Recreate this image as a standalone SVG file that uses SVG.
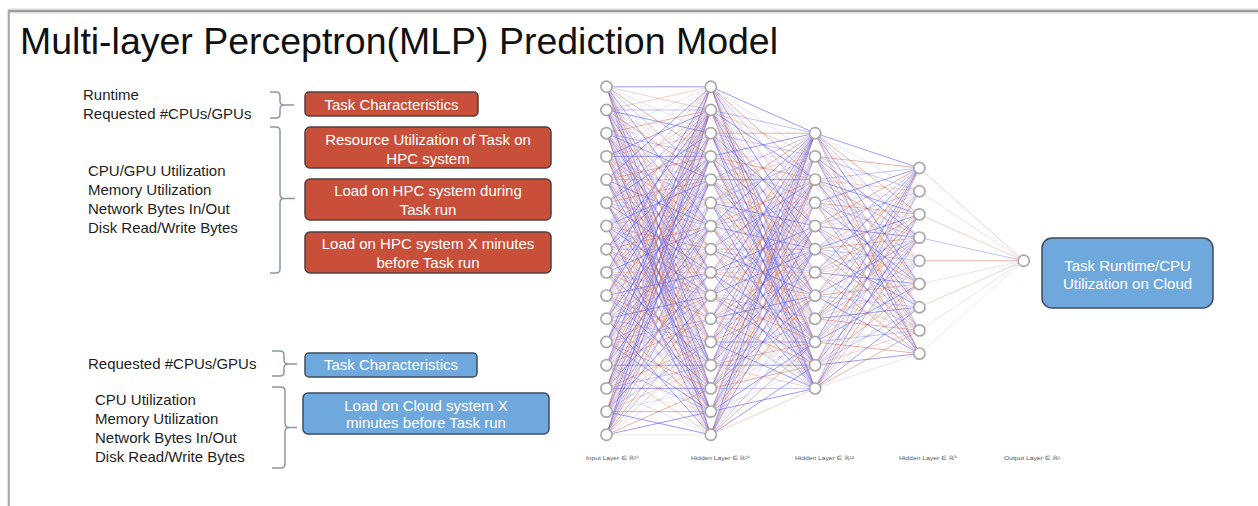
<svg xmlns="http://www.w3.org/2000/svg" xmlns:xlink="http://www.w3.org/1999/xlink" width="1258" height="506" viewBox="0 0 1258 506">
  <style>
    text { font-family: "Liberation Sans", Arial, sans-serif; }
    .title { font-size: 37px; fill: #111; }
    .lbl { font-size: 15px; fill: #1e1e1e; }
    .btxt { font-size: 15px; fill: #ffffff; text-anchor: middle; }
    .ltag { font-size: 6px; fill: #555; font-family: "Liberation Sans", "DejaVu Sans", sans-serif; }
    .red { fill: #c8503a; stroke: #4e4040; stroke-width: 1.5; }
    .blue { fill: #6fa8dc; stroke: #3e4c5c; stroke-width: 1.5; }
    .brace { fill: none; stroke: #8b97a6; stroke-width: 1.5; }
    .neuron { fill: #fff; stroke: #a9a9a9; stroke-width: 1.7; }
    .b1, .b2, .b3, .r1, .r2, .r3 { fill: none; stroke-width: 1; vector-effect: non-scaling-stroke; }
    .b1 { stroke: #5a5af0; stroke-opacity: .6; }
    .b2 { stroke: #5a5af0; stroke-opacity: .36; }
    .b3 { stroke: #5a5af0; stroke-opacity: .17; }
    .r1 { stroke: #d0684a; stroke-opacity: .5; }
    .r2 { stroke: #d0684a; stroke-opacity: .3; }
    .r3 { stroke: #d0684a; stroke-opacity: .15; }
  </style>
  <defs>
    <!-- Weight fans: one source at the origin, targets at x=104.3 on the next layer.
         Each <use> shears a fan so its source lands on a given neuron. -->
    <!-- input -> hidden 1 (16 targets) -->
    <g id="p1a">
      <path class="b1" d="M0 0L104.3 86.8M0 0L104.3 226M0 0L104.3 365.2"/>
      <path class="b2" d="M0 0L104.3 179.6M0 0L104.3 295.6M0 0L104.3 411.6"/>
      <path class="b3" d="M0 0L104.3 133.2M0 0L104.3 249.2M0 0L104.3 342"/>
      <path class="r1" d="M0 0L104.3 156.4M0 0L104.3 318.8"/>
      <path class="r2" d="M0 0L104.3 110M0 0L104.3 272.4M0 0L104.3 434.8"/>
      <path class="r3" d="M0 0L104.3 202.8M0 0L104.3 388.4"/>
    </g>
    <g id="p1b">
      <path class="b1" d="M0 0L104.3 133.2M0 0L104.3 272.4M0 0L104.3 388.4"/>
      <path class="b2" d="M0 0L104.3 110M0 0L104.3 226M0 0L104.3 365.2"/>
      <path class="b3" d="M0 0L104.3 202.8M0 0L104.3 318.8M0 0L104.3 434.8"/>
      <path class="r1" d="M0 0L104.3 179.6M0 0L104.3 342"/>
      <path class="r2" d="M0 0L104.3 86.8M0 0L104.3 249.2"/>
      <path class="r3" d="M0 0L104.3 156.4M0 0L104.3 295.6M0 0L104.3 411.6"/>
    </g>
    <g id="p1c">
      <path class="b1" d="M0 0L104.3 179.6M0 0L104.3 295.6M0 0L104.3 434.8"/>
      <path class="b2" d="M0 0L104.3 156.4M0 0L104.3 272.4M0 0L104.3 342"/>
      <path class="b3" d="M0 0L104.3 86.8M0 0L104.3 226M0 0L104.3 388.4"/>
      <path class="r1" d="M0 0L104.3 110M0 0L104.3 249.2M0 0L104.3 411.6"/>
      <path class="r2" d="M0 0L104.3 202.8M0 0L104.3 365.2"/>
      <path class="r3" d="M0 0L104.3 133.2M0 0L104.3 318.8"/>
    </g>
    <g id="p1d">
      <path class="b1" d="M0 0L104.3 110M0 0L104.3 156.4M0 0L104.3 411.6"/>
      <path class="b2" d="M0 0L104.3 202.8M0 0L104.3 249.2M0 0L104.3 318.8"/>
      <path class="b3" d="M0 0L104.3 179.6M0 0L104.3 365.2"/>
      <path class="r1" d="M0 0L104.3 226M0 0L104.3 295.6M0 0L104.3 388.4"/>
      <path class="r2" d="M0 0L104.3 133.2M0 0L104.3 342"/>
      <path class="r3" d="M0 0L104.3 86.8M0 0L104.3 272.4M0 0L104.3 434.8"/>
    </g>
    <!-- hidden 1 -> hidden 2 (12 targets) -->
    <g id="p2a">
      <path class="b1" d="M0 0L104.3 133.2M0 0L104.3 249.2M0 0L104.3 365.2"/>
      <path class="b2" d="M0 0L104.3 202.8M0 0L104.3 318.8"/>
      <path class="b3" d="M0 0L104.3 156.4M0 0L104.3 295.6"/>
      <path class="r1" d="M0 0L104.3 179.6M0 0L104.3 342"/>
      <path class="r2" d="M0 0L104.3 226M0 0L104.3 388.4"/>
      <path class="r3" d="M0 0L104.3 272.4"/>
    </g>
    <g id="p2b">
      <path class="b1" d="M0 0L104.3 179.6M0 0L104.3 295.6"/>
      <path class="b2" d="M0 0L104.3 133.2M0 0L104.3 272.4M0 0L104.3 388.4"/>
      <path class="b3" d="M0 0L104.3 226M0 0L104.3 342"/>
      <path class="r1" d="M0 0L104.3 249.2M0 0L104.3 365.2"/>
      <path class="r2" d="M0 0L104.3 156.4M0 0L104.3 318.8"/>
      <path class="r3" d="M0 0L104.3 202.8"/>
    </g>
    <g id="p2c">
      <path class="b1" d="M0 0L104.3 226M0 0L104.3 342M0 0L104.3 388.4"/>
      <path class="b2" d="M0 0L104.3 156.4M0 0L104.3 249.2"/>
      <path class="b3" d="M0 0L104.3 179.6M0 0L104.3 365.2"/>
      <path class="r1" d="M0 0L104.3 133.2M0 0L104.3 295.6"/>
      <path class="r2" d="M0 0L104.3 202.8M0 0L104.3 272.4"/>
      <path class="r3" d="M0 0L104.3 318.8"/>
    </g>
    <!-- hidden 2 -> hidden 3 (9 targets) -->
    <g id="p3a">
      <path class="b1" d="M0 0L104.3 168M0 0L104.3 284"/>
      <path class="b2" d="M0 0L104.3 237.6M0 0L104.3 330.4"/>
      <path class="b3" d="M0 0L104.3 191.2"/>
      <path class="r1" d="M0 0L104.3 214.4M0 0L104.3 353.6"/>
      <path class="r2" d="M0 0L104.3 260.8"/>
      <path class="r3" d="M0 0L104.3 307.2"/>
    </g>
    <g id="p3b">
      <path class="b1" d="M0 0L104.3 237.6M0 0L104.3 353.6"/>
      <path class="b2" d="M0 0L104.3 191.2M0 0L104.3 307.2"/>
      <path class="b3" d="M0 0L104.3 260.8"/>
      <path class="r1" d="M0 0L104.3 168M0 0L104.3 284"/>
      <path class="r2" d="M0 0L104.3 330.4"/>
      <path class="r3" d="M0 0L104.3 214.4"/>
    </g>
    <g id="p3c">
      <path class="b1" d="M0 0L104.3 214.4M0 0L104.3 307.2"/>
      <path class="b2" d="M0 0L104.3 168M0 0L104.3 260.8"/>
      <path class="b3" d="M0 0L104.3 353.6"/>
      <path class="r1" d="M0 0L104.3 237.6M0 0L104.3 330.4"/>
      <path class="r2" d="M0 0L104.3 191.2M0 0L104.3 284"/>
    </g>
  </defs>

  <rect width="1258" height="506" fill="#fff"/>

  <!-- slide frame -->
  <g id="frame">
    <rect x="8" y="8.5" width="1250" height="5" fill="#dcdcdc"/>
    <line x1="8" y1="11" x2="1258" y2="11" stroke="#9c9c9c" stroke-width="2"/>
    <line x1="8.7" y1="10" x2="8.7" y2="506" stroke="#a4a4a4" stroke-width="2"/>
  </g>

  <text class="title" x="20" y="54" textLength="758" lengthAdjust="spacingAndGlyphs">Multi-layer Perceptron(MLP) Prediction Model</text>

  <!-- HPC feature lists -->
  <g id="hpc-task-list">
    <text class="lbl" x="83" y="99.5">Runtime</text>
    <text class="lbl" x="83" y="118.5">Requested #CPUs/GPUs</text>
  </g>
  <g id="hpc-usage-list">
    <text class="lbl" x="88" y="176">CPU/GPU Utilization</text>
    <text class="lbl" x="88" y="194.5">Memory Utilization</text>
    <text class="lbl" x="88" y="213.5">Network Bytes In/Out</text>
    <text class="lbl" x="88" y="232.5">Disk Read/Write Bytes</text>
  </g>

  <!-- cloud feature lists -->
  <g id="cloud-task-list">
    <text class="lbl" x="88" y="369">Requested #CPUs/GPUs</text>
  </g>
  <g id="cloud-usage-list">
    <text class="lbl" x="95" y="404.5">CPU Utilization</text>
    <text class="lbl" x="95" y="423.5">Memory Utilization</text>
    <text class="lbl" x="95" y="442.5">Network Bytes In/Out</text>
    <text class="lbl" x="95" y="461.5">Disk Read/Write Bytes</text>
  </g>

  <!-- curly braces -->
  <g id="braces">
    <path class="brace" d="M270 92H276Q280 92 280 96V101Q280 105 284 105H294M284 105Q280 105 280 109V114Q280 118 276 118H270"/>
    <path class="brace" d="M270 127H276Q280 127 280 131V194Q280 198.5 284 198.5H295M284 198.5Q280 198.5 280 203V269Q280 273 276 273H270"/>
    <path class="brace" d="M272 351H280Q284 351 284 355V360Q284 364 288 364H297M288 364Q284 364 284 368V372Q284 376 280 376H272"/>
    <path class="brace" d="M272 387H281Q285 387 285 391V423Q285 427.5 289 427.5H297M289 427.5Q285 427.5 285 432V464Q285 468 281 468H272"/>
  </g>

  <!-- HPC feature boxes -->
  <g id="hpc-task-char">
    <rect class="red" x="305" y="92" width="173" height="24" rx="4"/>
    <text class="btxt" x="391.5" y="109.5">Task Characteristics</text>
  </g>
  <g id="hpc-resource-util">
    <rect class="red" x="305" y="127" width="246" height="41" rx="5"/>
    <text class="btxt" x="428" y="145">Resource Utilization of Task on</text>
    <text class="btxt" x="428" y="163.5">HPC system</text>
  </g>
  <g id="hpc-load-during">
    <rect class="red" x="305" y="179" width="246" height="41" rx="5"/>
    <text class="btxt" x="428" y="196">Load on HPC system during</text>
    <text class="btxt" x="428" y="214.5">Task run</text>
  </g>
  <g id="hpc-load-before">
    <rect class="red" x="305" y="232" width="246" height="41" rx="5"/>
    <text class="btxt" x="428" y="248.5">Load on HPC system X minutes</text>
    <text class="btxt" x="428" y="267.5">before Task run</text>
  </g>

  <!-- cloud feature boxes -->
  <g id="cloud-task-char">
    <rect class="blue" x="305" y="353" width="172" height="24" rx="4"/>
    <text class="btxt" x="391" y="370">Task Characteristics</text>
  </g>
  <g id="cloud-load-before">
    <rect class="blue" x="303" y="393" width="246" height="41" rx="5"/>
    <text class="btxt" x="426" y="410.5">Load on Cloud system X</text>
    <text class="btxt" x="426" y="428">minutes before Task run</text>
  </g>

  <!-- network weights -->
  <g id="connectors">
    <use href="#p1a" transform="matrix(1 -.8322 0 1 606.5 86.8)"/>
    <use href="#p1b" transform="matrix(1 -1.0546 0 1 606.5 110)"/>
    <use href="#p1c" transform="matrix(1 -1.2771 0 1 606.5 133.2)"/>
    <use href="#p1d" transform="matrix(1 -1.4995 0 1 606.5 156.4)"/>
    <use href="#p1a" transform="matrix(1 -1.7219 0 1 606.5 179.6)"/>
    <use href="#p1b" transform="matrix(1 -1.9444 0 1 606.5 202.8)"/>
    <use href="#p1c" transform="matrix(1 -2.1668 0 1 606.5 226)"/>
    <use href="#p1d" transform="matrix(1 -2.3893 0 1 606.5 249.2)"/>
    <use href="#p1a" transform="matrix(1 -2.6117 0 1 606.5 272.4)"/>
    <use href="#p1b" transform="matrix(1 -2.8341 0 1 606.5 295.6)"/>
    <use href="#p1c" transform="matrix(1 -3.0566 0 1 606.5 318.8)"/>
    <use href="#p1d" transform="matrix(1 -3.2790 0 1 606.5 342)"/>
    <use href="#p1a" transform="matrix(1 -3.5015 0 1 606.5 365.2)"/>
    <use href="#p1b" transform="matrix(1 -3.7239 0 1 606.5 388.4)"/>
    <use href="#p1c" transform="matrix(1 -3.9463 0 1 606.5 411.6)"/>
    <use href="#p1d" transform="matrix(1 -4.1688 0 1 606.5 434.8)"/>

    <use href="#p2a" transform="matrix(1 -.8322 0 1 710.8 86.8)"/>
    <use href="#p2b" transform="matrix(1 -1.0546 0 1 710.8 110)"/>
    <use href="#p2c" transform="matrix(1 -1.2771 0 1 710.8 133.2)"/>
    <use href="#p2a" transform="matrix(1 -1.4995 0 1 710.8 156.4)"/>
    <use href="#p2b" transform="matrix(1 -1.7219 0 1 710.8 179.6)"/>
    <use href="#p2c" transform="matrix(1 -1.9444 0 1 710.8 202.8)"/>
    <use href="#p2a" transform="matrix(1 -2.1668 0 1 710.8 226)"/>
    <use href="#p2b" transform="matrix(1 -2.3893 0 1 710.8 249.2)"/>
    <use href="#p2c" transform="matrix(1 -2.6117 0 1 710.8 272.4)"/>
    <use href="#p2a" transform="matrix(1 -2.8341 0 1 710.8 295.6)"/>
    <use href="#p2b" transform="matrix(1 -3.0566 0 1 710.8 318.8)"/>
    <use href="#p2c" transform="matrix(1 -3.2790 0 1 710.8 342)"/>
    <use href="#p2a" transform="matrix(1 -3.5015 0 1 710.8 365.2)"/>
    <use href="#p2b" transform="matrix(1 -3.7239 0 1 710.8 388.4)"/>
    <use href="#p2c" transform="matrix(1 -3.9463 0 1 710.8 411.6)"/>
    <use href="#p2a" transform="matrix(1 -4.1688 0 1 710.8 434.8)"/>

    <use href="#p3a" transform="matrix(1 -1.2771 0 1 815.1 133.2)"/>
    <use href="#p3b" transform="matrix(1 -1.4995 0 1 815.1 156.4)"/>
    <use href="#p3c" transform="matrix(1 -1.7219 0 1 815.1 179.6)"/>
    <use href="#p3a" transform="matrix(1 -1.9444 0 1 815.1 202.8)"/>
    <use href="#p3b" transform="matrix(1 -2.1668 0 1 815.1 226)"/>
    <use href="#p3c" transform="matrix(1 -2.3893 0 1 815.1 249.2)"/>
    <use href="#p3a" transform="matrix(1 -2.6117 0 1 815.1 272.4)"/>
    <use href="#p3b" transform="matrix(1 -2.8341 0 1 815.1 295.6)"/>
    <use href="#p3c" transform="matrix(1 -3.0566 0 1 815.1 318.8)"/>
    <use href="#p3a" transform="matrix(1 -3.2790 0 1 815.1 342)"/>
    <use href="#p3b" transform="matrix(1 -3.5015 0 1 815.1 365.2)"/>
    <use href="#p3c" transform="matrix(1 -3.7239 0 1 815.1 388.4)"/>

    <!-- hidden 3 -> output -->
    <path class="r2" d="M919.4 168L1023.7 260.8M919.4 214.4L1023.7 260.8M919.4 307.2L1023.7 260.8"/>
    <path class="b3" d="M919.4 191.2L1023.7 260.8M919.4 284L1023.7 260.8M919.4 330.4L1023.7 260.8"/>
    <path class="b2" d="M919.4 237.6L1023.7 260.8"/>
    <path class="r1" d="M919.4 260.8L1023.7 260.8"/>
    <path class="r3" d="M919.4 353.6L1023.7 260.8"/>
  </g>

  <!-- neurons -->
  <g id="input-layer" class="neuron">
    <circle cx="606.5" cy="86.8" r="5.6"/><circle cx="606.5" cy="110" r="5.6"/>
    <circle cx="606.5" cy="133.2" r="5.6"/><circle cx="606.5" cy="156.4" r="5.6"/>
    <circle cx="606.5" cy="179.6" r="5.6"/><circle cx="606.5" cy="202.8" r="5.6"/>
    <circle cx="606.5" cy="226" r="5.6"/><circle cx="606.5" cy="249.2" r="5.6"/>
    <circle cx="606.5" cy="272.4" r="5.6"/><circle cx="606.5" cy="295.6" r="5.6"/>
    <circle cx="606.5" cy="318.8" r="5.6"/><circle cx="606.5" cy="342" r="5.6"/>
    <circle cx="606.5" cy="365.2" r="5.6"/><circle cx="606.5" cy="388.4" r="5.6"/>
    <circle cx="606.5" cy="411.6" r="5.6"/><circle cx="606.5" cy="434.8" r="5.6"/>
  </g>
  <g id="hidden-layer-1" class="neuron">
    <circle cx="710.8" cy="86.8" r="5.6"/><circle cx="710.8" cy="110" r="5.6"/>
    <circle cx="710.8" cy="133.2" r="5.6"/><circle cx="710.8" cy="156.4" r="5.6"/>
    <circle cx="710.8" cy="179.6" r="5.6"/><circle cx="710.8" cy="202.8" r="5.6"/>
    <circle cx="710.8" cy="226" r="5.6"/><circle cx="710.8" cy="249.2" r="5.6"/>
    <circle cx="710.8" cy="272.4" r="5.6"/><circle cx="710.8" cy="295.6" r="5.6"/>
    <circle cx="710.8" cy="318.8" r="5.6"/><circle cx="710.8" cy="342" r="5.6"/>
    <circle cx="710.8" cy="365.2" r="5.6"/><circle cx="710.8" cy="388.4" r="5.6"/>
    <circle cx="710.8" cy="411.6" r="5.6"/><circle cx="710.8" cy="434.8" r="5.6"/>
  </g>
  <g id="hidden-layer-2" class="neuron">
    <circle cx="815.1" cy="133.2" r="5.6"/><circle cx="815.1" cy="156.4" r="5.6"/>
    <circle cx="815.1" cy="179.6" r="5.6"/><circle cx="815.1" cy="202.8" r="5.6"/>
    <circle cx="815.1" cy="226" r="5.6"/><circle cx="815.1" cy="249.2" r="5.6"/>
    <circle cx="815.1" cy="272.4" r="5.6"/><circle cx="815.1" cy="295.6" r="5.6"/>
    <circle cx="815.1" cy="318.8" r="5.6"/><circle cx="815.1" cy="342" r="5.6"/>
    <circle cx="815.1" cy="365.2" r="5.6"/><circle cx="815.1" cy="388.4" r="5.6"/>
  </g>
  <g id="hidden-layer-3" class="neuron">
    <circle cx="919.4" cy="168" r="5.6"/><circle cx="919.4" cy="191.2" r="5.6"/>
    <circle cx="919.4" cy="214.4" r="5.6"/><circle cx="919.4" cy="237.6" r="5.6"/>
    <circle cx="919.4" cy="260.8" r="5.6"/><circle cx="919.4" cy="284" r="5.6"/>
    <circle cx="919.4" cy="307.2" r="5.6"/><circle cx="919.4" cy="330.4" r="5.6"/>
    <circle cx="919.4" cy="353.6" r="5.6"/>
  </g>
  <g id="output-layer" class="neuron">
    <circle cx="1023.7" cy="260.8" r="5.6"/>
  </g>

  <!-- layer captions -->
  <g id="layer-captions">
    <text class="ltag" x="586" y="459.5" textLength="53" lengthAdjust="spacingAndGlyphs">Input Layer ∈ ℝ¹⁶</text>
    <text class="ltag" x="691" y="459.5" textLength="59" lengthAdjust="spacingAndGlyphs">Hidden Layer ∈ ℝ¹⁶</text>
    <text class="ltag" x="795" y="459.5" textLength="59" lengthAdjust="spacingAndGlyphs">Hidden Layer ∈ ℝ¹²</text>
    <text class="ltag" x="899" y="459.5" textLength="58" lengthAdjust="spacingAndGlyphs">Hidden Layer ∈ ℝ⁹</text>
    <text class="ltag" x="1004" y="459.5" textLength="56" lengthAdjust="spacingAndGlyphs">Output Layer ∈ ℝ¹</text>
  </g>

  <!-- prediction target -->
  <g id="prediction">
    <rect class="blue" x="1042" y="238" width="171" height="70" rx="10"/>
    <text class="btxt" x="1127.5" y="270.5">Task Runtime/CPU</text>
    <text class="btxt" x="1127.5" y="289">Utilization on Cloud</text>
  </g>
</svg>
